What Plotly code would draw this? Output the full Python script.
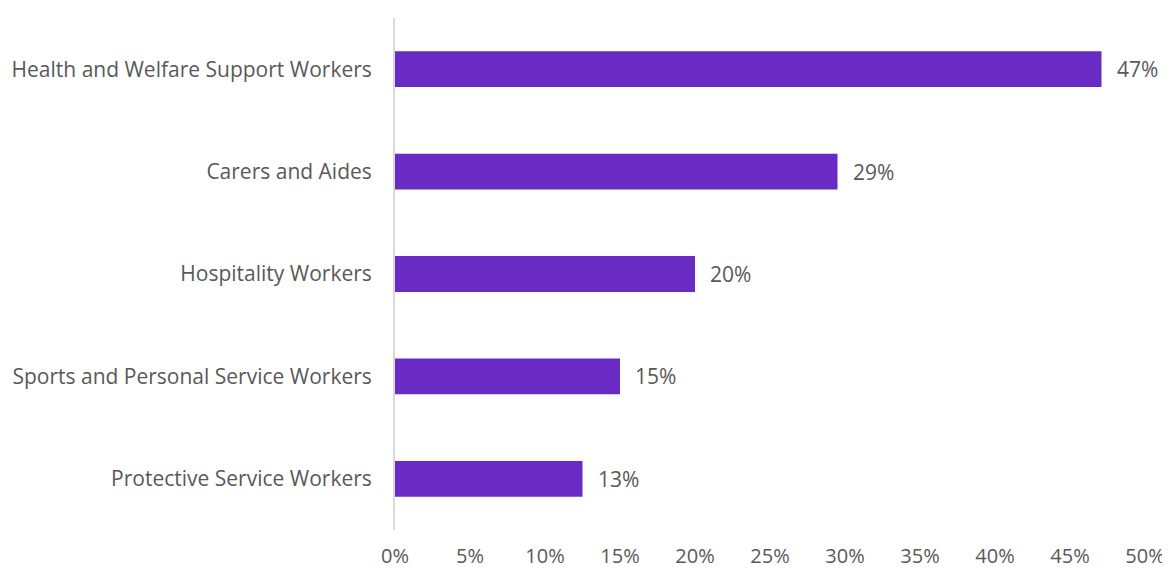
import plotly.graph_objects as go

categories = ["Health and Welfare Support Workers", "Carers and Aides", "Hospitality Workers",
              "Sports and Personal Service Workers", "Protective Service Workers"]
values = [47.1, 29.5, 20.0, 15.0, 12.5]
labels = ["47%", "29%", "20%", "15%", "13%"]
tick_vals = [0, 5, 10, 15, 20, 25, 30, 35, 40, 45, 50]
tick_text = ["0%", "5%", "10%", "15%", "20%", "25%", "30%", "35%", "40%", "45%", "50%"]

FONT = "Open Sans"
GREY = "#595959"
PURPLE = "#6A2AC4"
FS = 21

fig = go.Figure()
fig.add_trace(go.Bar(
    y=categories, x=values, orientation="h",
    marker=dict(color=PURPLE, line=dict(width=0)),
    width=0.35, hoverinfo="skip",
))
for c, v, t in zip(categories, values, labels):
    fig.add_annotation(x=v, y=c, text=t, showarrow=False, xanchor="left", xshift=13,
                       font=dict(family=FONT, size=FS, color=GREY))

# page body has an 8px margin: figure is sized/offset to compensate
fig.update_layout(
    width=1162, height=560,
    margin=dict(l=387, r=25, t=10, b=38),
    plot_bgcolor="white", paper_bgcolor="white",
    showlegend=False,
    font=dict(family=FONT, size=FS, color=GREY),
    xaxis=dict(range=[0, 50], tickvals=tick_vals, ticktext=tick_text, showgrid=False,
               zeroline=False, showline=False, ticks="", ticklabelstandoff=12, automargin=False,
               tickfont=dict(family=FONT, size=20, color=GREY), fixedrange=True),
    yaxis=dict(categoryorder="array", categoryarray=categories[::-1], range=[-0.5, 4.5],
               showgrid=False, zeroline=False, showline=True, linecolor="#d9d9d9", linewidth=2,
               ticks="", ticklabelstandoff=17, automargin=False,
               tickfont=dict(family=FONT, size=FS, color=GREY), fixedrange=True),
)

fig.write_html("out.html")
